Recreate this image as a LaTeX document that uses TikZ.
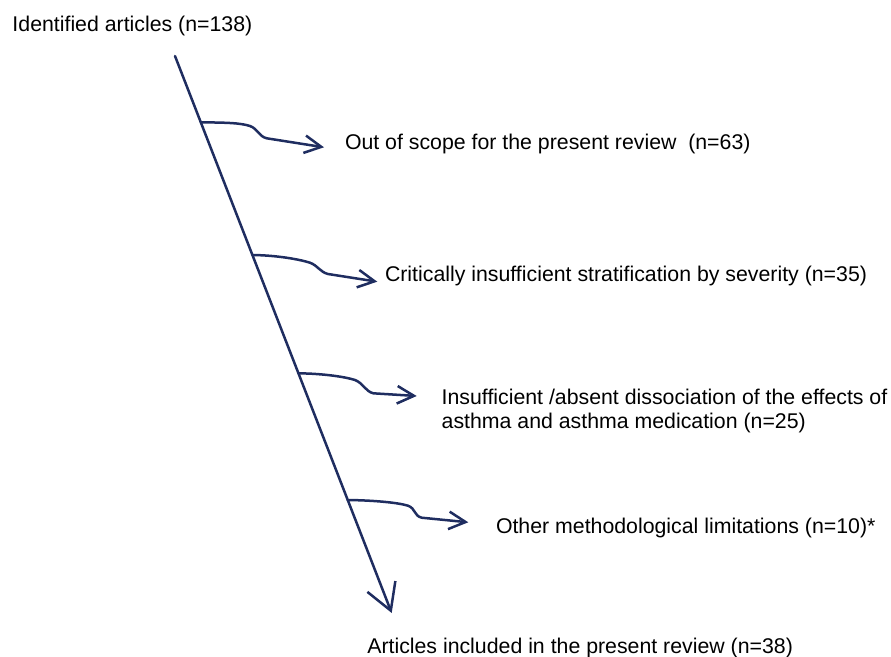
\documentclass[tikz,border=0pt]{standalone}
\usepackage{fontspec}
\setmainfont{Liberation Sans}
\usetikzlibrary{arrows.meta,calc}
\definecolor{navy}{RGB}{31,45,96}
\begin{document}
\begin{tikzpicture}[x=1pt,y=-1pt,
  flow/.style={draw=navy,line width=2.5pt,line cap=round,line join=round},
  lbl/.style={inner sep=0pt,outer sep=0pt,font=\fontsize{21.3pt}{24pt}\selectfont,text=black},
  mainhead/.style={-{Straight Barb[angle=60:30pt]}},
  branchhead/.style={-{Straight Barb[angle=55:19pt]}}]
\useasboundingbox (0,0) rectangle (891,656);

% labels
\node[lbl,anchor=base west] (ident) at (12.5,31) {Identified articles (n=138)};
\node[lbl,anchor=base west] (scope) at (345,149) {Out of scope for the present review\ \ (n=63)};
\node[lbl,anchor=base west] (strat) at (385,281.5) {Critically insufficient stratification by severity (n=35)};
\node[lbl,anchor=north west,align=left] (dissoc) at (441.7,389.5) {Insufficient /absent dissociation of the effects of\\asthma and asthma medication (n=25)};
\node[lbl,anchor=base west] (other) at (496,533) {Other methodological limitations (n=10)*};
\node[lbl,anchor=base west] (incl) at (367.3,653) {Articles included in the present review (n=38)};

% main line
\coordinate (top) at (175,56);
\coordinate (bottom) at (391.7,613);
\draw[flow,mainhead] (top) -- (bottom);

% branch points
\coordinate (s1) at (200.8,122.3);
\coordinate (a1) at (250,126);
\coordinate (b1) at (266.7,138.3);
\coordinate (t1) at (324,147.3);

\coordinate (s2) at (252.4,255);
\coordinate (a2) at (310,262.7);
\coordinate (b2) at (328,274);
\coordinate (t2) at (377.3,281.7);

\coordinate (s3) at (298.4,373.3);
\coordinate (a3) at (355,380);
\coordinate (b3) at (373.3,393.3);
\coordinate (t3) at (416.7,396);

\coordinate (s4) at (347.7,500);
\coordinate (a4) at (408,505.7);
\coordinate (b4) at (421.7,517.7);
\coordinate (t4) at (468.3,522.3);

\foreach \i in {1,2,3,4}{
  \draw[flow,branchhead] (s\i) .. controls ($(s\i)+(25,0.3)$) and ($(a\i)+(-10,-3.2)$) .. (a\i)
     .. controls ($(a\i)+(8,3)$) and ($(b\i)+(-8,-2)$) .. (b\i) -- (t\i);
}
\end{tikzpicture}
\end{document}
